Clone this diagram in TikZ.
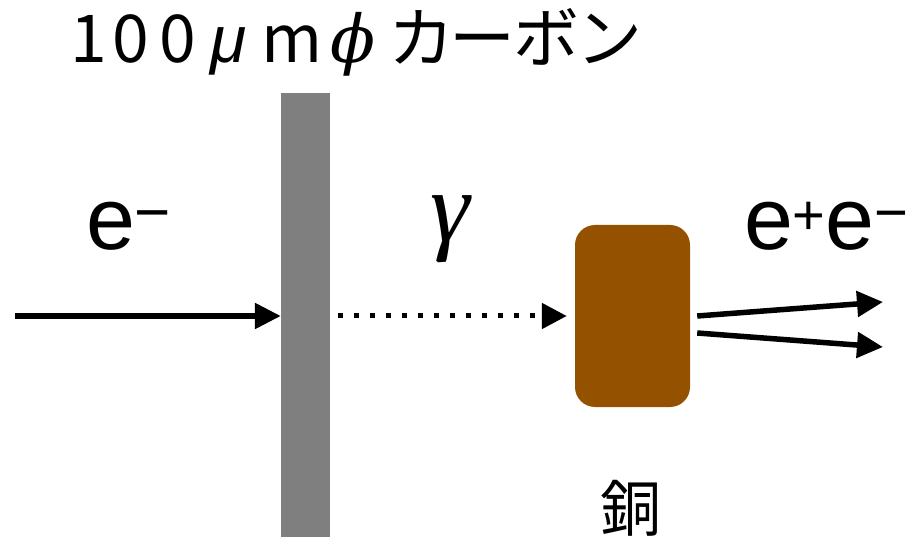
\documentclass[tikz,border=0pt]{standalone}
\usepackage{fontspec}
\usetikzlibrary{arrows.meta,calc}
\newfontfamily\cjk{Noto Sans CJK JP}
\newfontfamily\lib{Liberation Sans}
\newfontfamily\libser{Liberation Serif}
\newfontfamily\djser{DejaVu Serif}
\definecolor{bargray}{RGB}{127,127,127}
\definecolor{copper}{RGB}{148,82,0}
\tikzset{
  arr/.style={line width=5.5pt,-{Triangle[length=26pt,width=25pt]}},
  dotarr/.style={line width=5pt,dash pattern=on 5pt off 11pt,-{Triangle[length=25pt,width=25pt]}},
  txt/.style={inner sep=0pt,outer sep=0pt}
}
\begin{document}
\begin{tikzpicture}[x=1pt,y=-1pt]
\useasboundingbox (0,0) rectangle (908,537);
\node[fill=bargray,inner sep=0pt,minimum width=49pt,minimum height=444pt] (bar) at (305.5,315) {};
\node[fill=copper,inner sep=0pt,rounded corners=20pt,minimum width=115pt,minimum height=182pt] (cu) at (632.5,316) {};
\node[txt,anchor=base west] (title) at (89,63) {\fontsize{66}{70}\selectfont%
\makebox[0pt]{\cjk 1}\hspace{41.5pt}\makebox[0pt]{\cjk 0}\hspace{47pt}\makebox[0pt]{\cjk 0}\hspace{51.5pt}%
\makebox[0pt]{\lib\itshape μ}\hspace{63pt}\makebox[0pt]{\cjk m}\hspace{61pt}\makebox[0pt]{\djser\itshape ϕ}\hspace{68pt}%
\makebox[0pt]{\cjk カ}\hspace{61.5pt}\makebox[0pt]{\cjk ー}\hspace{64pt}\makebox[0pt]{\cjk ボ}\hspace{62.5pt}\makebox[0pt]{\cjk ン}};
\node[txt,anchor=base west] (em) at (86,250) {\fontsize{88}{90}\selectfont\lib e\raisebox{16pt}{\fontsize{62}{62}\selectfont −}};
\node[txt,anchor=base west] (epem) at (744,250) {\fontsize{88}{90}\selectfont\lib e\raisebox{15pt}{\fontsize{56}{56}\selectfont +}e\raisebox{17pt}{\fontsize{58}{58}\selectfont −}};
\node[txt,anchor=base] (gam) at (450,242) {\fontsize{100}{100}\selectfont\libser\itshape γ};
\node[txt,anchor=base] (culbl) at (631,531) {\fontsize{61}{64}\selectfont\cjk 銅};
\coordinate (src) at (15,316);
\coordinate (o1) at (883,302);
\coordinate (o2) at (883,347);
\draw[arr] (src) -- (src -| bar.west);
\draw[dotarr] ($(bar.east |- cu.west)+(8,0)$) -- ($(cu.west)+(-8,0)$);
\draw[arr] ($(cu.east)+(7,0)$) -- (o1);
\draw[arr] ($(cu.east)+(7,17)$) -- (o2);
\end{tikzpicture}
\end{document}
